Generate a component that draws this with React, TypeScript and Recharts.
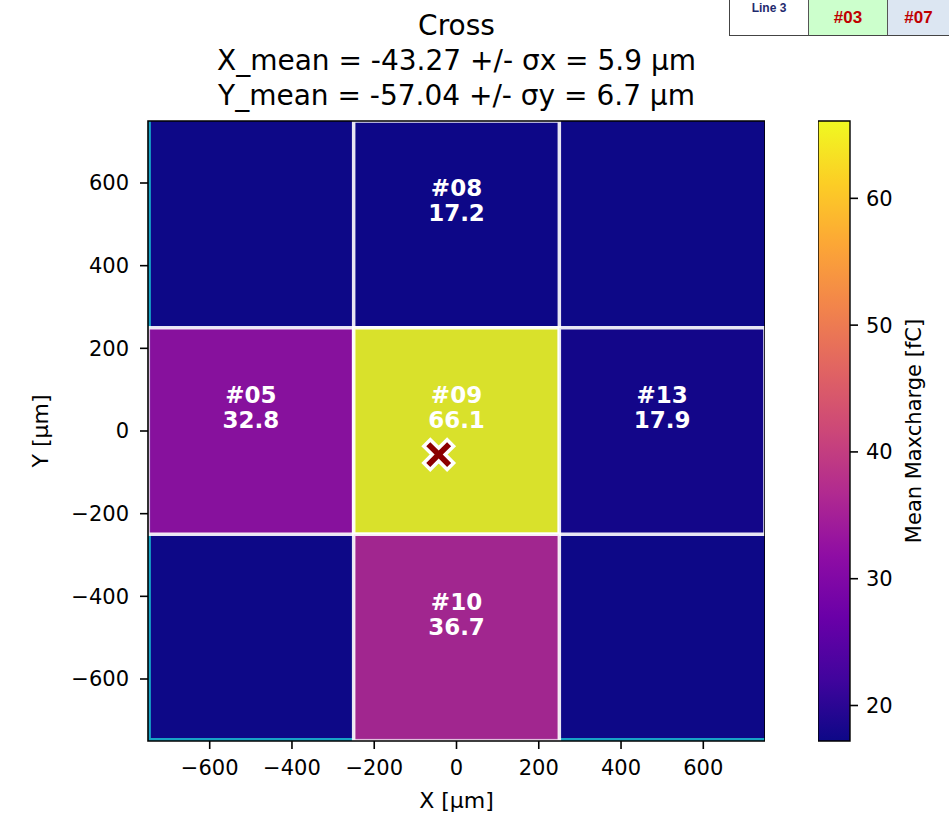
import React from 'react';
import { ScatterChart, Scatter, XAxis, YAxis, ReferenceArea, ComposedChart } from 'recharts';

// pad map (3x3 cross), centres in µm, mean maxcharge in fC (null = no pad label)
const padIds = ['', '#08', '', '#05', '#09', '#13', '', '#10', ''];
const padX = [-500, 0, 500, -500, 0, 500, -500, 0, 500];
const padY = [500, 500, 500, 0, 0, 0, -500, -500, -500];
const padCharge: (number | null)[] = [null, 17.2, null, 32.8, 66.1, 17.9, null, 36.7, null];

const axisTicks = [-600, -400, -200, 0, 200, 400, 600];
const cbarTicks = [20, 30, 40, 50, 60];
const meanPos = [{ x: -43.27, y: -57.04 }];
const chargeMin = 17.2;
const chargeMax = 66.1;

const PITCH = 500;
const RANGE = 750;
const EDGE = 7; // width of the cyan outline strip, µm
const FONT = '"DejaVu Sans", sans-serif';

const plasmaStops = ['#0d0887', '#41049d', '#6a00a8', '#8f0da4', '#b12a90', '#cc4778',
  '#e16462', '#f2844b', '#fca636', '#fcce25', '#f0f921'];

const hexToRgb = (h: string) => [1, 3, 5].map(i => parseInt(h.slice(i, i + 2), 16));

const plasma = (t: number) => {
  const c = Math.max(0, Math.min(1, t)) * 10;
  const i = Math.min(9, Math.floor(c));
  const f = c - i;
  const a = hexToRgb(plasmaStops[i]);
  const b = hexToRgb(plasmaStops[i + 1]);
  const rgb = a.map((v, k) => Math.round(v + (b[k] - v) * f));
  return `rgb(${rgb.join(',')})`;
};

const fmtTick = (v: number) => (v < 0 ? '\u2212' + Math.abs(v) : String(v));

const CellLabel = ({ viewBox, id, value }: any) => {
  if (!viewBox) return null;
  const cx = viewBox.x + viewBox.width / 2;
  const cy = viewBox.y + viewBox.height / 2;
  const style = { fontFamily: FONT, fontSize: 23, fontWeight: 'bold' as const, fill: '#fff' };
  return (
    <g>
      <text x={cx} y={cy - 36} textAnchor="middle" dominantBaseline="central" style={style}>{id}</text>
      <text x={cx} y={cy - 11} textAnchor="middle" dominantBaseline="central" style={style}>{value.toFixed(1)}</text>
    </g>
  );
};

const CrossMarker = ({ cx, cy }: any) => {
  const L = 16.5, a = 4.6;
  const d = `M${a},${a} L${L},${a} L${L},${-a} L${a},${-a} L${a},${-L} L${-a},${-L} L${-a},${-a} L${-L},${-a} L${-L},${a} L${-a},${a} L${-a},${L} L${a},${L} Z`;
  return (
    <path d={d} transform={`translate(${cx},${cy}) rotate(45)`} fill="#8b0000" stroke="#fff" strokeWidth={3.5} strokeLinejoin="miter" />
  );
};

const tickStyle = { fontSize: 21, fill: '#000', fontFamily: FONT };
const tickLine = { stroke: '#000', strokeWidth: 1.6 };

const MainMap = () => (
  <ScatterChart width={765} height={822} margin={{ top: 121, right: 0, bottom: 0, left: 0 }}>
    <XAxis
      type="number" dataKey="x" domain={[-RANGE, RANGE]} ticks={axisTicks} allowDataOverflow
      height={81} tickSize={8} tickMargin={11} tick={tickStyle} tickLine={tickLine}
      axisLine={false} tickFormatter={fmtTick}
      label={(p: any) => {
        const vb = p.viewBox || { x: 148, y: 741, width: 617 };
        return <text x={vb.x + vb.width / 2} y={vb.y + 59} textAnchor="middle" dominantBaseline="central" style={{ fontFamily: FONT, fontSize: 22, fill: '#000' }}>X [µm]</text>;
      }}
    />
    <YAxis
      type="number" dataKey="y" domain={[-RANGE, RANGE]} ticks={axisTicks} allowDataOverflow
      width={148} tickSize={8} tickMargin={11} tick={tickStyle} tickLine={tickLine}
      axisLine={false} tickFormatter={fmtTick}
      label={(p: any) => {
        const vb = p.viewBox || { x: 0, y: 121, height: 620 };
        const x = vb.x + 40, y = vb.y + vb.height / 2;
        return <text x={x} y={y} transform={`rotate(-90, ${x}, ${y})`} textAnchor="middle" dominantBaseline="central" style={{ fontFamily: FONT, fontSize: 22, fill: '#000' }}>Y [µm]</text>;
      }}
    />
    {/* background: empty pads */}
    <ReferenceArea x1={-RANGE} x2={RANGE} y1={-RANGE} y2={RANGE} fill={plasma(0)} fillOpacity={1} stroke="none" ifOverflow="hidden" />
    <ReferenceArea x1={-RANGE} x2={-RANGE + EDGE} y1={-RANGE} y2={RANGE} fill="#17a2c6" fillOpacity={1} stroke="none" ifOverflow="hidden" />
    <ReferenceArea x1={-RANGE} x2={RANGE} y1={-RANGE} y2={-RANGE + EDGE} fill="#17a2c6" fillOpacity={1} stroke="none" ifOverflow="hidden" />
    {padIds.map((id, i) => {
      const q = padCharge[i];
      if (q === null) return null;
      return (
        <ReferenceArea
          key={i}
          x1={padX[i] - PITCH / 2} x2={padX[i] + PITCH / 2}
          y1={padY[i] - PITCH / 2} y2={padY[i] + PITCH / 2}
          fill={plasma((q - chargeMin) / (chargeMax - chargeMin))} fillOpacity={0.9}
          stroke="#fff" strokeOpacity={0.9} strokeWidth={3.5}
          ifOverflow="hidden"
          label={<CellLabel id={id} value={q} />}
        />
      );
    })}
    <ReferenceArea x1={-RANGE} x2={RANGE} y1={-RANGE} y2={RANGE} fill="none" stroke="#000" strokeWidth={1.6} ifOverflow="visible" />
    <Scatter data={meanPos} isAnimationActive={false} shape={(p: any) => <CrossMarker cx={p.cx} cy={p.cy} />} />
  </ScatterChart>
);

const ColorBar = () => (
  <ComposedChart width={131} height={822} margin={{ top: 121, right: 0, bottom: 81, left: 0 }} data={[{ x: 0 }, { x: 1 }]}>
    <defs>
      <linearGradient id="plasmaGrad" x1="0" y1="1" x2="0" y2="0">
        {plasmaStops.map((c, i) => <stop key={i} offset={`${i * 10}%`} stopColor={c} />)}
      </linearGradient>
    </defs>
    <XAxis type="number" dataKey="x" domain={[0, 1]} hide />
    <YAxis
      orientation="right" type="number" domain={[chargeMin, chargeMax]} ticks={cbarTicks} allowDataOverflow
      width={99} tickSize={8} tickMargin={8} tick={tickStyle} tickLine={tickLine} axisLine={false}
      label={(p: any) => {
        const vb = p.viewBox || { x: 32, y: 121, height: 620 };
        const x = vb.x + 64, y = vb.y + vb.height / 2;
        return <text x={x} y={y} transform={`rotate(-90, ${x}, ${y})`} textAnchor="middle" dominantBaseline="central" style={{ fontFamily: FONT, fontSize: 21, fill: '#000' }}>Mean Maxcharge [fC]</text>;
      }}
    />
    <ReferenceArea x1={0} x2={1} y1={chargeMin} y2={chargeMax} fill="url(#plasmaGrad)" fillOpacity={1} stroke="#000" strokeWidth={1.4} ifOverflow="visible" />
  </ComposedChart>
);

const titleLines = [
  'Cross',
  'X_mean = -43.27 +/- σx = 5.9 µm',
  'Y_mean = -57.04 +/- σy = 6.7 µm',
];

const cellBase: React.CSSProperties = {
  position: 'absolute', top: -2, height: 38, boxSizing: 'border-box',
  borderBottom: '1.5px solid #444', borderRight: '1px solid #555',
  fontFamily: '"Liberation Sans", Arial, sans-serif', fontWeight: 'bold', textAlign: 'center',
};

export default function App() {
  return (
    <div style={{ position: 'absolute', left: 0, top: 0, width: 949, height: 822, background: '#fff', overflow: 'hidden' }}>
      <div style={{ position: 'absolute', left: 148, top: 8, width: 617, textAlign: 'center', fontFamily: FONT, fontSize: 28, lineHeight: '35px', color: '#000', whiteSpace: 'nowrap' }}>
        {titleLines.map((t, i) => <div key={i}>{t}</div>)}
      </div>
      <div style={{ position: 'absolute', left: 0, top: 0 }}>
        <MainMap />
      </div>
      <div style={{ position: 'absolute', left: 818, top: 0 }}>
        <ColorBar />
      </div>
      <div style={{ ...cellBase, left: 729, width: 80, background: '#fff', borderLeft: '1.5px solid #444' }}>
        <div style={{ fontSize: 12, lineHeight: '14px', color: '#1f2a6e', marginTop: 3 }}>Line 3</div>
      </div>
      <div style={{ ...cellBase, left: 809, width: 79, background: '#ccffcc' }}>
        <div style={{ fontSize: 17, color: '#c00000', marginTop: 10 }}>#03</div>
      </div>
      <div style={{ ...cellBase, left: 888, width: 62, background: '#dce6f2' }}>
        <div style={{ fontSize: 17, color: '#c00000', marginTop: 10 }}>#07</div>
      </div>
    </div>
  );
}
